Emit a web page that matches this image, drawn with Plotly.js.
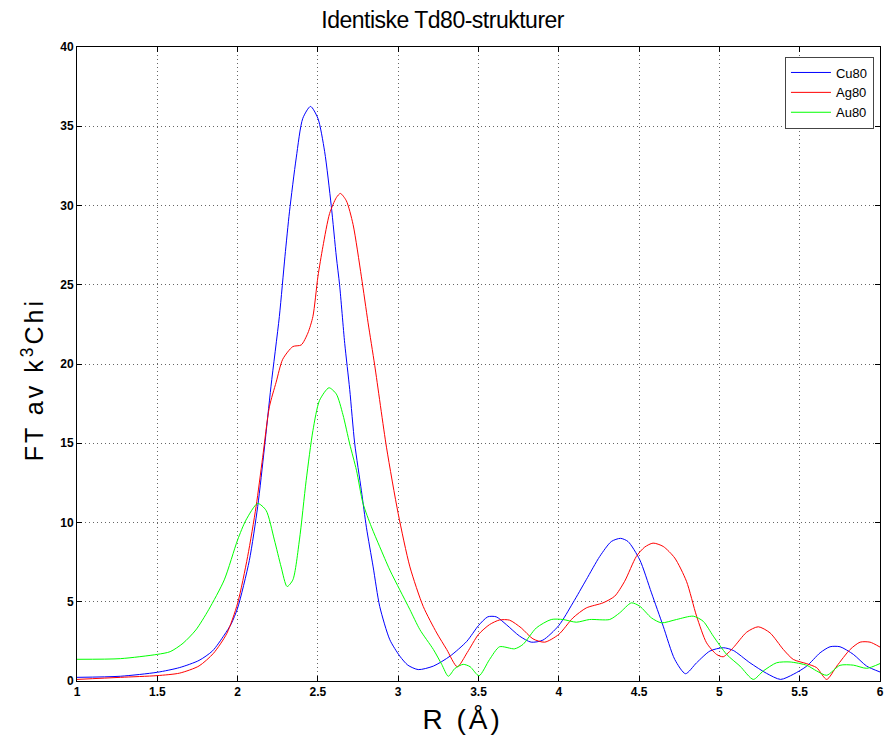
<!DOCTYPE html>
<html>
<head>
<meta charset="utf-8">
<script src="https://cdn.plot.ly/plotly-3.0.1.min.js"></script>
<style>
html,body{margin:0;padding:0;background:#fff;}
#chart{width:886px;height:739px;}
g.annotation[data-index="0"] text{letter-spacing:-0.5px;}
g.annotation[data-index="1"] text{letter-spacing:3px;}
g.annotation[data-index="2"] text{letter-spacing:3px;}
</style>
</head>
<body>
<div id="chart"></div>
<script>
const seriesNames = ["Cu80", "Ag80", "Au80"];

const cuR = [1.0,1.27,1.5,1.64,1.76,1.844,1.917,1.96,2.0,2.073,2.125,2.167,2.208,2.26,2.295,2.323,2.365,2.406,2.454,2.5,2.542,2.583,2.615,2.635,2.667,2.698,2.729,2.771,2.802,2.844,2.885,2.948,3.01,3.06,3.125,3.219,3.323,3.427,3.5,3.558,3.61,3.673,3.756,3.828,3.901,4.0,4.088,4.171,4.255,4.327,4.384,4.431,4.504,4.577,4.65,4.722,4.789,4.858,4.941,5.024,5.086,5.19,5.294,5.381,5.46,5.544,5.627,5.689,5.751,5.834,5.917,6.0];
const cuFT = [0.23,0.3,0.55,0.85,1.3,1.9,2.9,3.6,4.6,7.6,11.0,14.7,18.6,23.0,26.8,29.6,33.0,35.5,36.25,35.5,33.4,30.0,26.75,25.0,21.3,18.4,15.0,12.0,9.7,7.2,4.7,2.6,1.57,1.0,0.72,0.94,1.57,2.5,3.5,4.05,4.05,3.56,2.83,2.45,2.58,3.5,4.93,6.39,7.86,8.8,9.0,8.8,7.65,5.56,3.46,1.36,0.46,1.15,1.89,2.1,1.93,1.15,0.48,0.1,0.42,0.94,1.78,2.16,2.16,1.68,0.94,0.57];

const agR = [1.0,1.27,1.5,1.64,1.76,1.85,1.933,2.0,2.0625,2.115,2.156,2.198,2.24,2.281,2.344,2.396,2.4375,2.469,2.5,2.531,2.573,2.615,2.64,2.677,2.719,2.771,2.8125,2.854,2.927,3.0,3.073,3.156,3.24,3.302,3.368,3.43,3.5,3.569,3.631,3.693,3.766,3.839,3.912,4.0,4.088,4.171,4.275,4.348,4.41,4.483,4.535,4.587,4.65,4.722,4.795,4.858,4.92,4.982,5.024,5.086,5.17,5.242,5.315,5.398,5.46,5.544,5.606,5.668,5.731,5.814,5.876,5.938,6.0];
const agFT = [0.1,0.23,0.34,0.5,0.95,1.75,3.0,4.9,7.85,11.0,14.1,17.3,18.85,20.3,21.1,21.2,21.95,23.0,25.5,27.4,29.5,30.5,30.76,30.3,28.8,25.5,22.6,19.9,14.75,10.56,7.2,4.7,3.03,1.99,0.9,1.8,2.94,3.56,3.85,3.84,3.35,2.66,2.45,2.94,3.98,4.61,4.93,5.35,6.29,7.86,8.45,8.7,8.49,7.76,6.29,4.09,2.41,1.68,1.53,2.1,3.08,3.42,3.04,1.99,1.36,1.09,0.84,0.1,0.94,1.99,2.45,2.45,2.14];

const auR = [1.0,1.27,1.5,1.58,1.66,1.74,1.82,1.917,2.0,2.052,2.125,2.177,2.229,2.271,2.308,2.344,2.385,2.427,2.469,2.51,2.569,2.615,2.656,2.698,2.74,2.781,2.833,2.885,2.948,3.01,3.073,3.135,3.219,3.271,3.312,3.354,3.405,3.448,3.503,3.569,3.631,3.725,3.777,3.86,3.953,4.026,4.109,4.192,4.317,4.379,4.452,4.504,4.577,4.639,4.733,4.837,4.899,4.962,5.045,5.128,5.211,5.273,5.356,5.44,5.544,5.606,5.668,5.751,5.834,5.917,6.0];
const auFT = [1.37,1.41,1.68,1.85,2.38,3.22,4.5,6.38,8.9,10.15,11.2,10.77,8.9,7.2,5.96,6.38,8.9,12.66,15.8,17.7,18.5,18.1,16.8,14.96,13.3,11.2,9.73,8.47,7.0,5.75,4.5,3.24,1.99,1.05,0.3,0.8,1.05,0.9,0.33,1.36,2.16,2.03,2.31,3.35,3.88,3.88,3.71,3.88,3.88,4.3,4.93,4.72,3.98,3.67,3.88,4.09,3.77,2.83,1.68,0.94,0.1,0.63,1.15,1.2,0.99,0.63,0.36,0.99,1.0,0.8,1.1];

const xTicks = [1,1.5,2,2.5,3,3.5,4,4.5,5,5.5,6];
const yTicks = [0,5,10,15,20,25,30,35,40];

const titleText = "Identiske Td80-strukturer";
const xTitle = "R (Å)";
const yTitle = "FT av k<sup>3</sup>Chi";

const colors = ["#0000ff", "#ff0000", "#00ff00"];
const xs = [cuR, agR, auR];
const ys = [cuFT, agFT, auFT];

const traces = seriesNames.map((n, i) => ({
  x: xs[i], y: ys[i], name: n, type: "scatter", mode: "lines",
  line: {color: colors[i], width: 1, shape: "spline", smoothing: 0.7}
}));

const baseFont = "Liberation Sans, Arial, sans-serif";

const axisCommon = {
  showline: true, linecolor: "#000", linewidth: 1, mirror: "ticks",
  ticks: "inside", ticklen: 5, tickcolor: "#000",
  showgrid: true, gridcolor: "#666", griddash: "1px,3px", gridwidth: 1,
  zeroline: false,
  tickfont: {family: baseFont, size: 12, color: "#000", weight: "bold"}
};

const layout = {
  width: 886, height: 739,
  margin: {l: 77, r: 6, t: 47, b: 58},
  paper_bgcolor: "#fff", plot_bgcolor: "#fff",
  xaxis: Object.assign({}, axisCommon, {range: [1, 6], tickvals: xTicks, ticktext: xTicks.map(String)}),
  yaxis: Object.assign({}, axisCommon, {range: [0, 40], tickvals: yTicks, ticktext: yTicks.map(String)}),
  annotations: [
    {text: titleText, xref: "paper", yref: "paper", x: 0.4558, y: 1.042, xanchor: "center", yanchor: "middle",
     showarrow: false, font: {family: baseFont, size: 23, color: "#000"}},
    {text: xTitle, xref: "paper", yref: "paper", x: 0.4795, y: -0.061, xanchor: "center", yanchor: "middle",
     showarrow: false, font: {family: baseFont, size: 28, color: "#000"}},
    {text: yTitle, xref: "paper", yref: "paper", x: -0.055, y: 0.475, xanchor: "center", yanchor: "middle",
     textangle: -90, showarrow: false, font: {family: baseFont, size: 25, color: "#000"}}
  ],
  showlegend: true,
  legend: {x: 0.9925, y: 0.985, xanchor: "right", yanchor: "top",
           bgcolor: "#fff", bordercolor: "#444", borderwidth: 1,
           font: {family: baseFont, size: 13, color: "#000"},
           tracegroupgap: 0, itemwidth: 40}
};

Plotly.newPlot("chart", traces, layout, {displayModeBar: false, staticPlot: true});
</script>
</body>
</html>
